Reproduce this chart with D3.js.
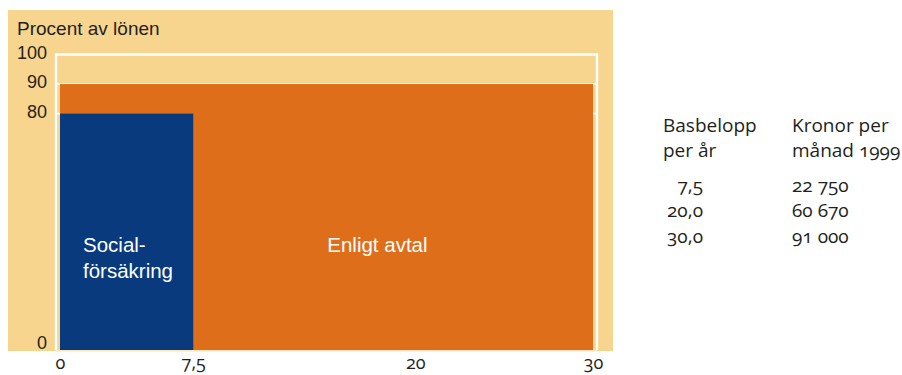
<!DOCTYPE html>
<html lang="sv">
<head>
<meta charset="utf-8">
<script src="https://cdn.jsdelivr.net/npm/d3@7"></script>
<style>
  html, body { margin: 0; padding: 0; background: #ffffff; }
  svg { display: block; }
  .sans { font-family: "Liberation Sans", Arial, sans-serif; }
  .old { font-family: "Open Sans", sans-serif; font-variant-numeric: oldstyle-nums; font-feature-settings: "onum" 1; }
</style>
</head>
<body>
<svg id="chart" width="902" height="375"></svg>
<script>
// Ersättning i procent av lönen, per inkomstnivå i basbelopp
const xTicks = [0, 7.5, 20, 30];
const yTicks = [0, 80, 90, 100];
const barNames = ["Socialförsäkring", "Enligt avtal"];
const barFrom = [0, 0];
const barTo = [7.5, 30];
const barLevel = [80, 90];
const gridLevels = [80, 90];

// Tabell till höger
const tableHeadLeft = ["Basbelopp", "per år"];
const tableHeadRight = ["Kronor per", "månad 1999"];
const basbelopp = ["7,5", "20,0", "30,0"];
const kronor = ["22 750", "60 670", "91 000"];

const colors = { bg: "#F7D58F", orange: "#DF6E1B", blue: "#0A3A7E", text: "#231F20" };

const svg = d3.select("#chart");
const sv = d3.formatLocale({ decimal: ",", thousands: " ", grouping: [3], currency: ["", " kr"] });
const fmt = sv.format("~g");

const x = d3.scaleLinear().domain([0, 30]).range([60, 593]);
const y = d3.scaleLinear().domain([0, 100]).range([350, 54.5]);

// Bakgrundsplatta
svg.append("rect")
  .attr("x", 8).attr("y", 10).attr("width", 605).attr("height", 341)
  .attr("fill", colors.bg);

const frameL = x(0) - 4, frameR = x(30) + 4;

// Stödlinjer
svg.append("g").selectAll("line").data(gridLevels).join("line")
  .attr("x1", frameL).attr("x2", frameR)
  .attr("y1", d => y(d)).attr("y2", d => y(d))
  .attr("stroke", "#ffffff").attr("stroke-width", 1.6);

// Ram
svg.append("path")
  .attr("d", `M${frameL},${y(0)}V${y(100)}H${frameR}V${y(0)}`)
  .attr("fill", "none").attr("stroke", "#ffffff").attr("stroke-width", 2.4);
svg.append("line")
  .attr("x1", frameL).attr("x2", frameR).attr("y1", y(0) + 0.8).attr("y2", y(0) + 0.8)
  .attr("stroke", "#FBE6BD").attr("stroke-width", 1.6);

// Staplar (bredaste först)
const bars = barNames.map((n, i) => ({ name: n, from: barFrom[i], to: barTo[i], level: barLevel[i] }))
  .sort((a, b) => (b.to - b.from) - (a.to - a.from));
svg.append("g").selectAll("rect").data(bars).join("rect")
  .attr("x", d => x(d.from))
  .attr("width", d => x(d.to) - x(d.from))
  .attr("y", d => y(d.level))
  .attr("height", d => y(0) - y(d.level))
  .attr("fill", d => d.name === "Enligt avtal" ? colors.orange : colors.blue);

// Y-axel
const yAxis = svg.append("g")
  .attr("transform", `translate(${47},0)`)
  .call(d3.axisLeft(y).tickValues(yTicks).tickSize(0).tickPadding(0).tickFormat(fmt));
yAxis.select(".domain").remove();
yAxis.selectAll("text")
  .attr("class", "sans").attr("dy", d => d === 0 ? "-0.1em" : "0.2em")
  .style("font-size", "18px").attr("fill", colors.text);

// X-axel
const xAxis = svg.append("g")
  .attr("transform", `translate(0,${y(0) + 1})`)
  .call(d3.axisBottom(x).tickValues(xTicks).tickSize(0).tickPadding(1).tickFormat(fmt));
xAxis.select(".domain").remove();
xAxis.selectAll("text")
  .attr("class", "old").attr("dy", "0.95em")
  .style("font-size", "18px").attr("fill", colors.text);

// Axelrubrik
svg.append("text")
  .attr("class", "sans").attr("x", 17).attr("y", 35)
  .style("font-size", "19px").attr("fill", colors.text)
  .text("Procent av lönen");

// Etiketter i staplarna
const social = svg.append("text")
  .attr("class", "sans").attr("x", x(0) + 23).attr("y", 252)
  .style("font-size", "20.5px").attr("fill", "#ffffff");
social.append("tspan").attr("x", x(0) + 23).text("Social-");
social.append("tspan").attr("x", x(0) + 23).attr("dy", 26).text("försäkring");

svg.append("text")
  .attr("class", "sans").attr("x", x(7.5) + 134).attr("y", 252)
  .style("font-size", "20.5px").attr("fill", "#ffffff")
  .text("Enligt avtal");

// Tabell
const tbl = svg.append("g").attr("class", "old")
  .style("font-size", "19px").attr("fill", colors.text);
tbl.append("text").attr("y", 132).selectAll("tspan").data(tableHeadLeft).join("tspan")
  .attr("x", 663).attr("dy", (d, i) => i ? 25 : 0).text(d => d);
tbl.append("text").attr("y", 132).selectAll("tspan").data(tableHeadRight).join("tspan")
  .attr("x", 792).attr("dy", (d, i) => i ? 25 : 0).text(d => d);
const rowY = [192, 217, 243];
tbl.append("g").selectAll("text").data(basbelopp).join("text")
  .attr("x", 703).attr("y", (d, i) => rowY[i]).attr("text-anchor", "end").text(d => d);
tbl.append("g").selectAll("text").data(kronor).join("text")
  .attr("x", 792).attr("y", (d, i) => rowY[i]).text(d => d);
</script>
</body>
</html>
